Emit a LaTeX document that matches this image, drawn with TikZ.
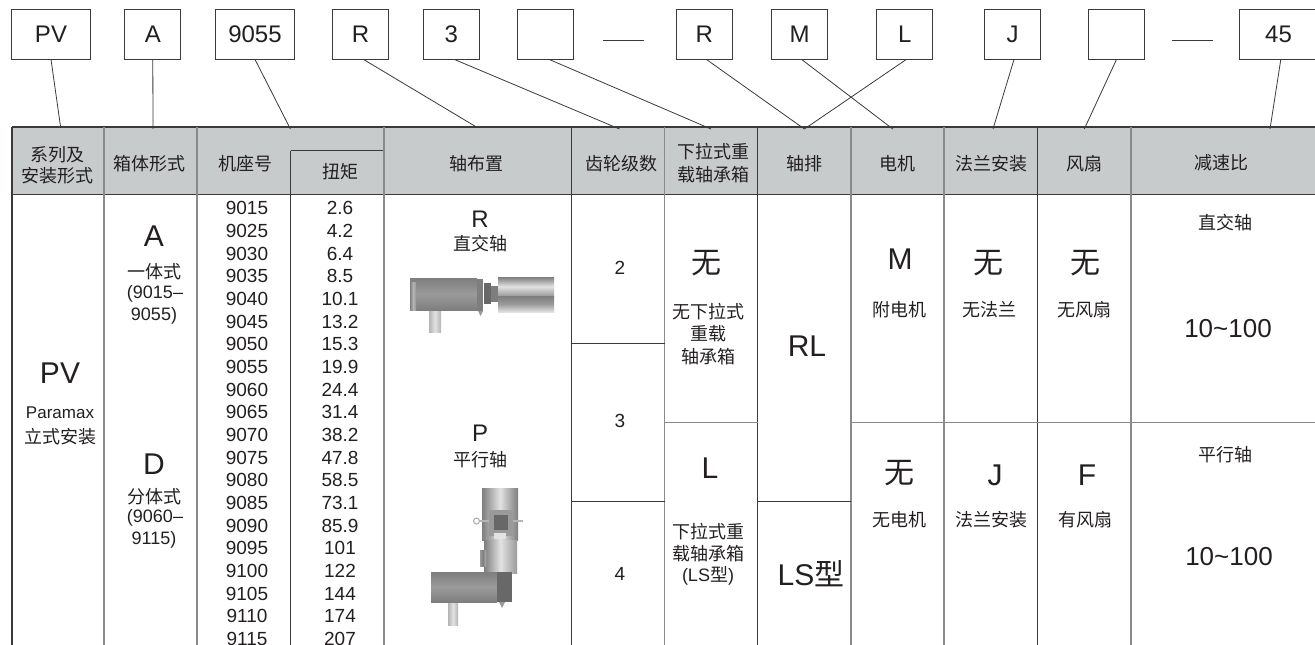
\documentclass[tikz,border=0pt]{standalone}
\usepackage{fontspec}
\setmainfont{Liberation Sans}
\newfontfamily\cjk{Noto Sans CJK SC}
\definecolor{hdrfill}{HTML}{C8CBCC}
\definecolor{inkline}{HTML}{3A3A3A}
\definecolor{greyline}{HTML}{8A8A8A}
\definecolor{inktext}{HTML}{231F20}
\definecolor{gA}{HTML}{7E7E7E}
\definecolor{gB}{HTML}{9A9A9A}
\definecolor{gC}{HTML}{B4B4B4}
\definecolor{gD}{HTML}{E2E2E2}
\definecolor{gE}{HTML}{686868}
\tikzset{
  codebox/.style={draw=inkline,line width=0.9pt,fill=white,inner sep=0pt,text=inktext,font=\fontsize{24}{24}\selectfont},
  conn/.style={draw=inkline,line width=0.8pt},
  darkrule/.style={draw=inkline,line width=1pt},
  greyrule/.style={draw=greyline,line width=1.2pt},
  lab/.style={inner sep=0pt,anchor=center,text=inktext,align=center},
  hdr/.style={lab,font=\cjk\fontsize{18}{18}\selectfont},
  zh/.style={lab,font=\cjk\fontsize{18}{18}\selectfont},
  num/.style={lab,font=\fontsize{19}{19}\selectfont},
  small/.style={lab,font=\fontsize{18}{18}\selectfont},
  big/.style={lab,font=\fontsize{30}{30}\selectfont},
  bigzh/.style={lab,font=\cjk\fontsize{30}{30}\selectfont},
  midl/.style={lab,font=\fontsize{24}{24}\selectfont},
  ratio/.style={lab,font=\fontsize{26}{26}\selectfont},
}
\newcommand{\cbox}[4]{\node[codebox,minimum width=#3 pt,minimum height=50pt] (#1) at (#2,34) {#4};}
\begin{document}
\begin{tikzpicture}[x=1pt,y=-1pt]
\clip (0,0) rectangle (1315,645);
% header band
\fill[hdrfill] (12,127) rectangle (1315,194);
% code boxes
\cbox{bPV}{51}{79}{PV}
\cbox{bA}{152.8}{56}{A}
\cbox{bN}{255}{79}{9055}
\cbox{bR}{360.5}{56}{R}
\cbox{bG}{451.4}{56}{3}
\cbox{bB}{545.7}{56}{}
\cbox{bRR}{704.4}{56}{R}
\cbox{bM}{799.6}{56}{M}
\cbox{bL}{904.8}{56}{L}
\cbox{bJ}{1012.5}{56}{J}
\cbox{bF}{1116.5}{56}{}
\cbox{bE}{1278.5}{79}{45}
% dashes between boxes
\coordinate (d1a) at (603,40); \coordinate (d1b) at (644,40);
\coordinate (d2a) at (1172,40); \coordinate (d2b) at (1213,40);
\draw[conn] (d1a) -- (d1b);
\draw[conn] (d2a) -- (d2b);
% connector ends on the table top
\coordinate (tPV) at (60.6,127);
\coordinate (tA) at (153,129);
\coordinate (tN) at (290.4,129);
\coordinate (tR) at (476.4,127);
\coordinate (tG) at (619.5,129);
\coordinate (tB) at (711,129);
\coordinate (tRL) at (804.4,129);
\coordinate (tM) at (892.8,129);
\coordinate (tJ) at (993,129);
\coordinate (tF) at (1084.3,129);
\coordinate (tE) at (1270,129);
\draw[conn] (bPV.south) -- (tPV);
\draw[conn] (bA.south) -- (tA);
\draw[conn] (bN.south) -- (tN);
\draw[conn] ([xshift=3pt]bR.south) -- (tR);
\draw[conn] ([xshift=3pt]bG.south) -- (tG);
\draw[conn] ([xshift=3.5pt]bB.south) -- (tB);
\draw[conn] ([xshift=2pt]bRR.south) -- (tRL);
\draw[conn] ([xshift=2pt]bM.south) -- (tM);
\draw[conn] ([xshift=1.5pt]bL.south) -- (tRL);
\draw[conn] ([xshift=1.5pt]bJ.south) -- (tJ);
\draw[conn] (bF.south) -- (tF);
\draw[conn] ([xshift=2.3pt]bE.south) -- (tE);
% table rules
\draw[inkline,line width=1.6pt] (12,127) -- (1315,127);
\draw[inkline,line width=1pt] (12,194) -- (1315,194);
\draw[inkline,line width=1.6pt] (12,127) -- (12,645);
\draw[greyrule] (104,127) -- (104,645);
\draw[greyrule] (197,127) -- (197,645);
\draw[darkrule] (290.5,150.5) -- (290.5,645);
\draw[darkrule] (290.5,150.5) -- (384,150.5);
\draw[greyrule] (384,127) -- (384,645);
\draw[darkrule] (571,127) -- (571,645);
\draw[greyrule] (664.5,127) -- (664.5,645);
\draw[darkrule] (757.5,127) -- (757.5,645);
\draw[greyrule] (851,127) -- (851,645);
\draw[greyrule] (944,127) -- (944,645);
\draw[darkrule] (1037.5,127) -- (1037.5,645);
\draw[greyrule] (1131,127) -- (1131,645);
\draw[darkrule] (571,343.3) -- (664.5,343.3);
\draw[darkrule] (571,501) -- (664.5,501);
\draw[darkrule] (757.5,501) -- (851,501);
\draw[greyrule] (664.5,422.7) -- (757.5,422.7);
\draw[greyrule] (851,422.7) -- (1315,422.7);
% header text
\node[hdr] (h1a) at (57,155) {系列及};
\node[hdr] (h1b) at (57,176) {安装形式};
\node[hdr] (h2) at (149.5,164) {箱体形式};
\node[hdr] (h3) at (245,164) {机座号};
\node[hdr] (h4) at (340,172) {扭矩};
\node[hdr] (h5) at (476.4,164) {轴布置};
\node[hdr] (h6) at (621,164) {齿轮级数};
\node[hdr] (h7a) at (713,152) {下拉式重};
\node[hdr] (h7b) at (713,175) {载轴承箱};
\node[hdr] (h8) at (804.4,164) {轴排};
\node[hdr] (h9) at (897.4,164) {电机};
\node[hdr] (h10) at (991,164) {法兰安装};
\node[hdr] (h11) at (1084,164) {风扇};
\node[hdr] (h12) at (1221,163) {减速比};
% column 1
\node[big] (pv) at (60,373) {PV};
\node[lab,font=\fontsize{17}{17}\selectfont] (pm) at (60,413) {Paramax};
\node[zh] (ls) at (60,437) {立式安装};
% column 2
\node[big] (ca) at (154,236) {A};
\node[zh] (ca1) at (154,272) {一体式};
\node[small] (ca2) at (155,294) {(9015–};
\node[small] (ca3) at (154,316) {9055)};
\node[big] (cd) at (154,464) {D};
\node[zh] (cd1) at (154,497) {分体式};
\node[small] (cd2) at (155,518) {(9060–};
\node[small] (cd3) at (154,540) {9115)};
% numbers
\foreach \n/\t [count=\i from 0] in {9015/2.6,9025/4.2,9030/6.4,9035/8.5,9040/10.1,9045/13.2,9050/15.3,9055/19.9,9060/24.4,9065/31.4,9070/38.2,9075/47.8,9080/58.5,9085/73.1,9090/85.9,9095/101,9100/122,9105/144,9110/174,9115/207}{
  \node[num] (n\i) at (247,208.3+22.67*\i) {\n};
  \node[num] (q\i) at (340,208.3+22.67*\i) {\t};
}
% shaft arrangement
\node[midl] (sr) at (480,219) {R};
\node[zh] (sr1) at (480,244) {直交轴};
\node[midl] (sp) at (480,433) {P};
\node[zh] (sp1) at (480,460) {平行轴};
% right-angle gearmotor picture
\fill[left color=gC,right color=gC,middle color=gD] (429,308) rectangle (441,332);
\fill[top color=gA,bottom color=gA,middle color=gB] (410,278) rectangle (477,310);
\fill[left color=gA,right color=gB,middle color=gC] (410,282) rectangle (416,310);
\fill[gA] (477,279) rectangle (483,311);
\fill[gB] (478,311) -- (483,311) -- (480.5,316) -- cycle;
\fill[gE] (484,283) rectangle (491,304);
\fill[gA] (491,286) rectangle (498,302);
\fill[top color=gA,bottom color=gB,middle color=gD] (498,277) rectangle (554,296);
\fill[top color=gA,bottom color=gD,middle color=gB] (498,296) rectangle (554,312);
% parallel gearmotor picture
\fill[left color=gC,right color=gC,middle color=gD] (448,600) rectangle (458,625);
\fill[left color=gA,right color=gA,middle color=gD] (482,488) rectangle (518,540);
\fill[gB] (489,510) rectangle (513,536);
\fill[gE] (494,515) rectangle (508,530);
\fill[gD] (494,533) rectangle (506,539);
\draw[gC,line width=1.2pt] (476.5,521) circle (3pt);
\draw[gC,line width=1.2pt] (480,521) -- (489,521);
\draw[gC,line width=1.2pt] (513,521) -- (523,521);
\fill[left color=gA,right color=gB,middle color=gD] (484,540) rectangle (517,573);
\fill[left color=gB,right color=gC,middle color=gA] (480,550) rectangle (486,566);
\fill[top color=gA,bottom color=gA,middle color=gB] (431,572) rectangle (497,602);
\fill[gE] (497,572) rectangle (512,602);
\fill[gB] (499,602) -- (505,602) -- (502,608) -- cycle;
% gear stages
\node[num] (g2) at (620,268) {2};
\node[num] (g3) at (620,421) {3};
\node[num] (g4) at (620,574) {4};
% bearing housing
\node[bigzh] (bh1) at (706.7,263) {无};
\node[zh] (bh2) at (708,312) {无下拉式};
\node[zh] (bh3) at (708,334) {重载};
\node[zh] (bh4) at (708,357) {轴承箱};
\node[big] (bh5) at (710,468) {L};
\node[zh] (bh6) at (708,532) {下拉式重};
\node[zh] (bh7) at (708,554) {载轴承箱};
\node[small] (bh8) at (708,576) {(LS{\cjk 型})};
% shaft row
\node[big] (rl) at (807,346) {RL};
\node[big] (lst) at (811,574) {LS{\cjk 型}};
% motor
\node[big] (mm) at (900,259) {M};
\node[zh] (mm1) at (899,310) {附电机};
\node[bigzh] (mn) at (899,473) {无};
\node[zh] (mn1) at (899,520) {无电机};
% flange
\node[bigzh] (fn) at (988,263) {无};
\node[zh] (fn1) at (989,310) {无法兰};
\node[big] (fj) at (995,475) {J};
\node[zh] (fj1) at (991,520) {法兰安装};
% fan
\node[bigzh] (an) at (1085.7,263) {无};
\node[zh] (an1) at (1084,310) {无风扇};
\node[big] (af) at (1087,475) {F};
\node[zh] (af1) at (1085,520) {有风扇};
% ratio
\node[zh] (r1) at (1225.7,223) {直交轴};
\node[ratio] (r2) at (1228,329) {10\char`~100};
\node[zh] (r3) at (1225.7,455) {平行轴};
\node[ratio] (r4) at (1229,557) {10\char`~100};
\end{tikzpicture}
\end{document}
